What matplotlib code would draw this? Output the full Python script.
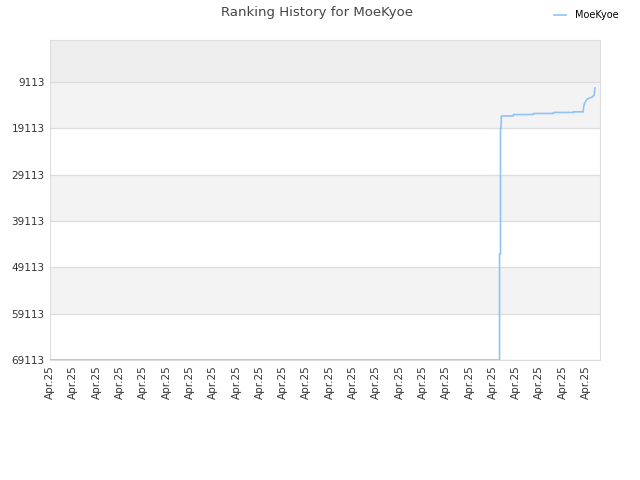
import matplotlib
matplotlib.use('Agg')
import matplotlib.pyplot as plt

player = 'MoeKyoe'
tick_labels = ['Apr.25'] * 24
y_ticks = [9113, 19113, 29113, 39113, 49113, 59113, 69113]

# x in tick-step units, rank values
x_vals = [0.0, 19.29, 19.29, 19.33, 19.33, 19.35, 19.37, 19.88, 19.88, 20.74, 20.74,
          21.60, 21.60, 22.46, 22.46, 22.88, 22.88, 22.91, 22.97, 23.05, 23.13,
          23.26, 23.30, 23.35, 23.37, 23.39]
ranks = [69113, 69113, 46200, 46200, 19113, 19113, 16400, 16400, 16100, 16100, 15870,
         15870, 15650, 15650, 15520, 15520, 15370, 14080, 13360, 12780, 12560,
         12350, 12130, 11920, 10840, 10340]

fig = plt.figure(figsize=(6.4, 4.8), dpi=100)
ax = fig.add_axes([50 / 640, 120 / 480, 550 / 640, 320 / 480])

# background bands
ax.axhspan(0, 9113, color='#eeeeee', zorder=0, lw=0)
for lo in [9113, 29113, 49113]:
    ax.axhspan(lo, lo + 10000, color='#f3f3f3', zorder=0, lw=0)
for yt in y_ticks:
    ax.axhline(yt, color='#dddddd', lw=0.9, zorder=1)

ax.plot(x_vals, ranks, color='#90c4f5', lw=1.2, zorder=3, label=player)

ax.set_xlim(0, 23.6)
ax.set_ylim(69113, 0)
ax.set_yticks(y_ticks)
ax.set_yticklabels([str(v) for v in y_ticks])
ax.set_xticks(range(len(tick_labels)))
ax.set_xticklabels(tick_labels, rotation=90)
ax.tick_params(length=0, labelsize=7.5, colors='#333333', pad=4)
for s in ax.spines.values():
    s.set_color('#dddddd')

fig.text(0.495, 0.988, 'Ranking History for ' + player, ha='center', va='top',
         fontsize=9.5, color='#444444')
ax.legend(loc='upper right', bbox_to_anchor=(0.98, 0.997), bbox_transform=fig.transFigure,
          frameon=False, fontsize=7, handlelength=1.2, handletextpad=0.9)

plt.savefig('out.png')
